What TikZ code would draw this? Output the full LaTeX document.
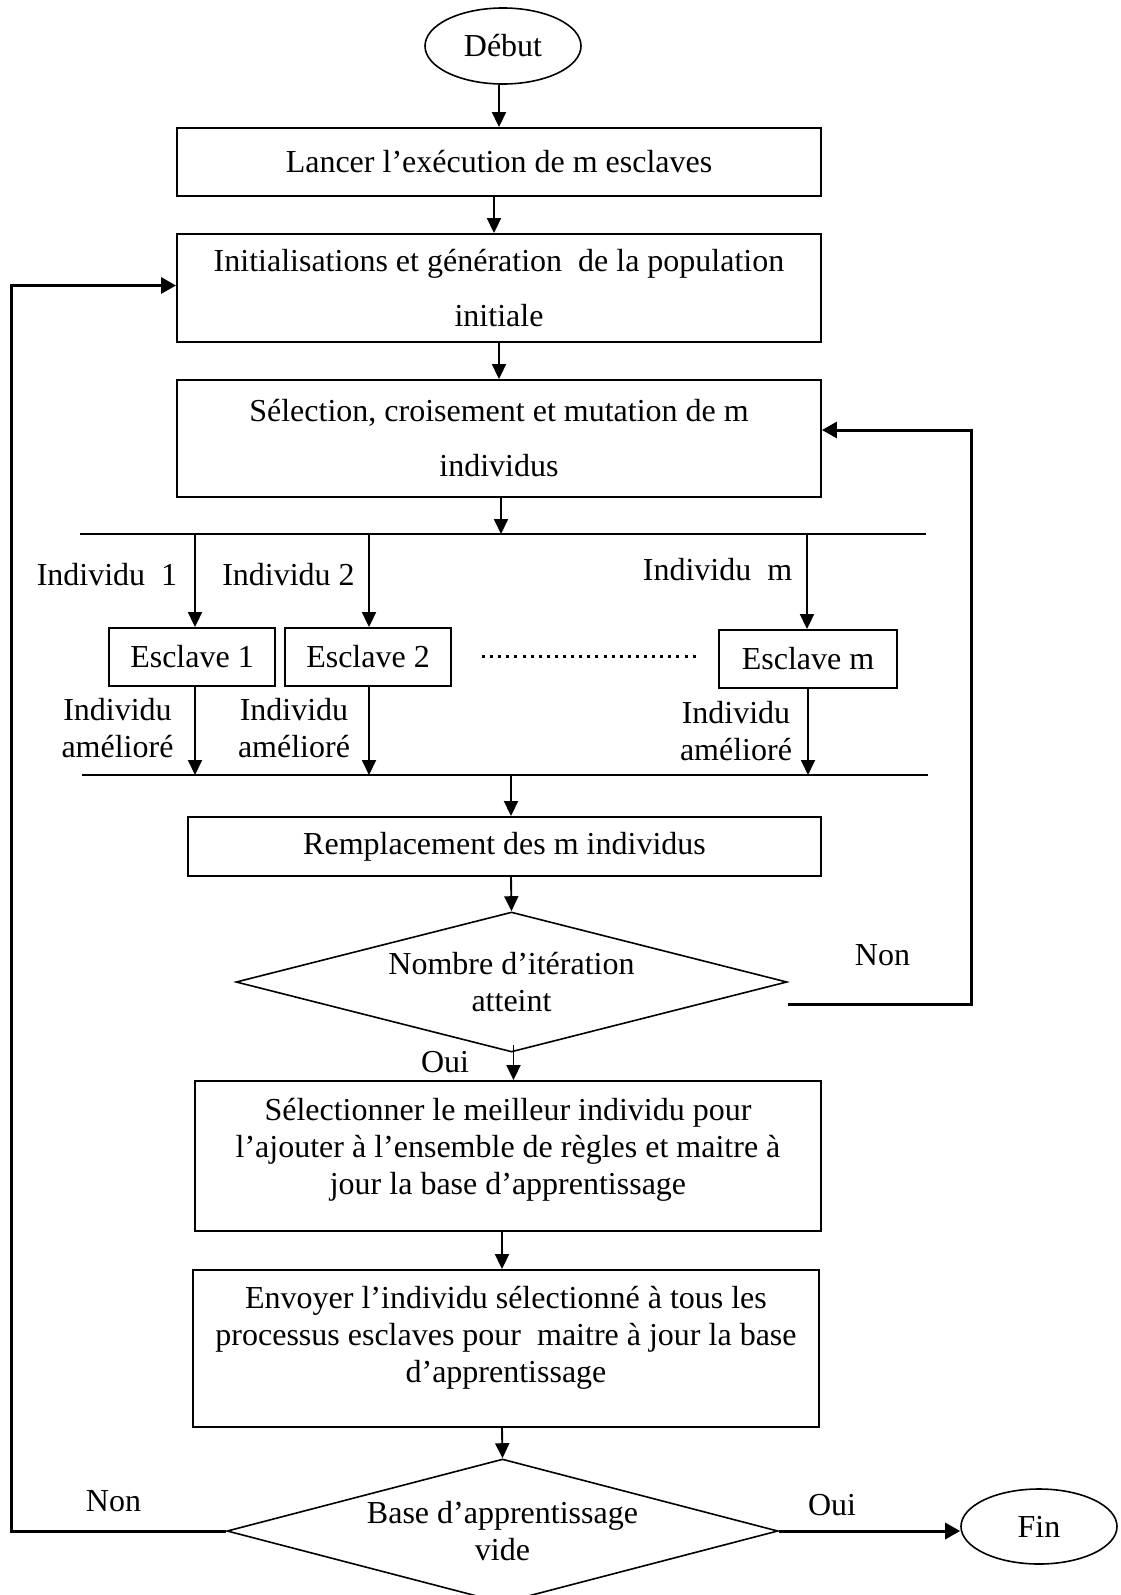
\documentclass[tikz,border=0pt]{standalone}
\usepackage{fontspec}
\setmainfont{Liberation Serif}
\usetikzlibrary{arrows.meta,shapes.geometric,calc}
\begin{document}
\begin{tikzpicture}[x=1pt,y=-1pt,
  every node/.style={font=\fontsize{32}{37}\selectfont, inner sep=0pt},
  box/.style={draw, line width=1.9pt, rectangle, align=center},
  wide/.style={font=\fontsize{32}{55}\selectfont},
  term/.style={draw, ellipse, line width=1.6pt, minimum width=156pt, minimum height=76pt},
  dec/.style={draw, diamond, line width=1.6pt, align=center, aspect=3.9},
  arr/.style={line width=1.9pt, -{Triangle[length=15pt,width=14pt]}},
  loopline/.style={line width=3pt, -{Triangle[length=15pt,width=16pt]}},
  bus/.style={line width=2pt},
  lbl/.style={align=center}]
\useasboundingbox (0,0) rectangle (1121,1595);

% main nodes
\node[term] (debut) at (503,46) {Début};
\node[box, minimum width=644pt, minimum height=68pt] (lancer) at (499,162) {Lancer l’exécution de m esclaves};
\node[box, wide, minimum width=644pt, minimum height=108pt] (init) at (499,288) {Initialisations et génération\ \ de la population\\initiale};
\node[box, wide, minimum width=644pt, minimum height=117pt] (sel) at (499,438.5) {Sélection, croisement et mutation de m\\individus};
\node[box, minimum width=166pt, minimum height=58pt] (esc1) at (192,657) {Esclave 1};
\node[box, minimum width=166pt, minimum height=58pt] (esc2) at (368,657) {Esclave 2};
\node[box, minimum width=178pt, minimum height=58pt] (escm) at (808,659) {Esclave m};
\node[box, minimum width=633pt, minimum height=59pt] (rempl) at (504.5,846.5) {Remplacement des m individus};
\node[dec, minimum width=551pt, minimum height=140pt] (d1) at (511.5,982) {Nombre d’itération\\atteint};
\node[box, minimum width=626pt, minimum height=150pt] (best) at (508,1156) {};
\node[lbl] (bestt) at (508,1149.5) {Sélectionner le meilleur individu pour\\l’ajouter à l’ensemble de règles et maitre à\\jour la base d’apprentissage};
\node[box, minimum width=626pt, minimum height=157pt] (env) at (506,1348.5) {};
\node[lbl] (envt) at (506,1338) {Envoyer l’individu sélectionné à tous les\\processus esclaves pour\ \ maitre à jour la base\\d’apprentissage};
\node[dec, minimum width=551pt, minimum height=144pt] (d2) at (502.5,1531) {Base d’apprentissage\\vide};
\node[term, minimum height=75pt] (fin) at (1039,1526.5) {Fin};

% labels
\node (l1) at (107,575) {Individu\ \ 1};
\node (l2) at (288.5,575) {Individu 2};
\node (lm) at (717.5,570) {Individu\ \ m};
\node[lbl] (a1) at (117.5,728) {Individu\\amélioré};
\node[lbl] (a2) at (294,728) {Individu\\amélioré};
\node[lbl] (am) at (736,731) {Individu\\amélioré};
\node (non1) at (882.5,955) {Non};
\node (oui1) at (445,1062) {Oui};
\node (non2) at (113.5,1501) {Non};
\node (oui2) at (832,1505) {Oui};

% buses
\coordinate (bt1) at (80,534);
\coordinate (bt2) at (926,534);
\coordinate (bb1) at (82,775);
\coordinate (bb2) at (928,775);
\draw[bus] (bt1) -- (bt2);
\draw[bus] (bb1) -- (bb2);
\draw[line width=3pt, dash pattern=on 3pt off 5.1pt] (482,656) -- (696,656);

% arrows
\draw[arr] ([xshift=-4pt]debut.south) -- ([xshift=-4pt]debut.south |- lancer.north);
\draw[arr] ([xshift=-5pt]lancer.south) -- ([xshift=-5pt]init.north);
\draw[arr] (init.south) -- (sel.north);
\draw[arr] ([xshift=2pt]sel.south) -- ([xshift=2pt]sel.south |- bt1);
\draw[arr] ([xshift=3pt]esc1.north |- bt1) -- ([xshift=3pt]esc1.north);
\draw[arr] ([xshift=1pt]esc2.north |- bt1) -- ([xshift=1pt]esc2.north);
\draw[arr] ([xshift=-1pt]escm.north |- bt1) -- ([xshift=-1pt]escm.north);
\draw[arr] ([xshift=3pt]esc1.south) -- ([xshift=3pt]esc1.south |- bb1);
\draw[arr] ([xshift=1pt]esc2.south) -- ([xshift=1pt]esc2.south |- bb1);
\draw[arr] (escm.south) -- (escm.south |- bb1);
\draw[arr] ([xshift=6.5pt]rempl.north |- bb1) -- ([xshift=6.5pt]rempl.north);
\draw[arr] ([xshift=6.5pt]rempl.south) -- (d1.north);
\draw[arr] ([shift={(2pt,8pt)}]d1.south) -- ([xshift=2pt]d1.south |- best.north);
\draw[arr] ([xshift=-6pt]best.south) -- ([xshift=-6pt]best.south |- env.north);
\draw[arr] ([xshift=-4pt]env.south) -- (d2.north);

% loops
\coordinate (rc) at (971,430);
\coordinate (rs) at ($(d1.east)+(0,22)$);
\draw[loopline] (rs) -- (rs -| rc) -- (rc) -- (rc -| sel.east);
\coordinate (lc) at (11,285.5);
\draw[loopline] (d2.west) -- (d2.west -| lc) -- (lc) -- (lc -| init.west);
\draw[loopline] (d2.east) -- (d2.east -| fin.west);
\end{tikzpicture}
\end{document}
